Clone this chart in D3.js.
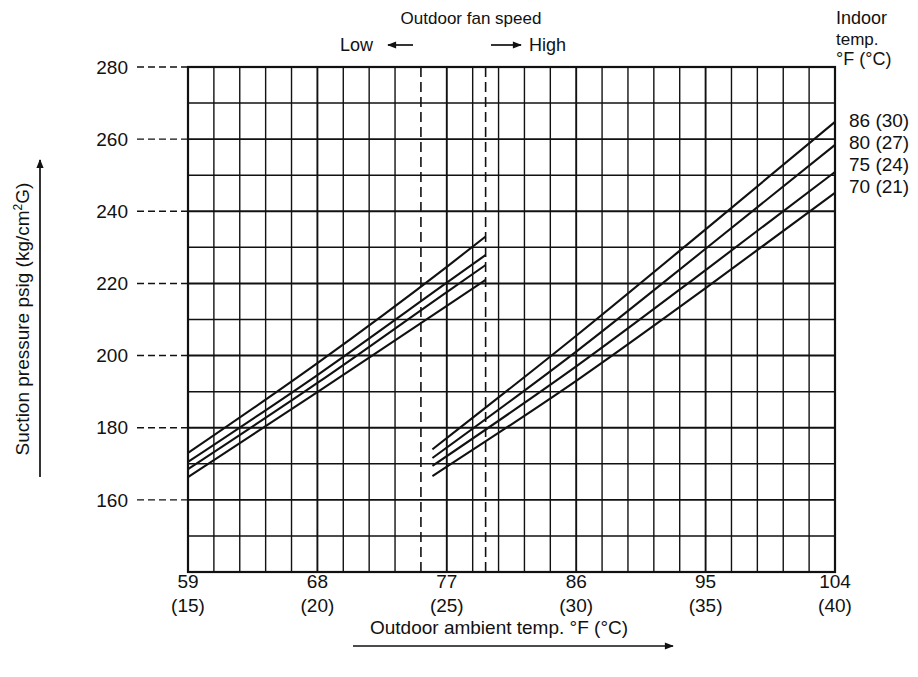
<!DOCTYPE html>
<html><head><meta charset="utf-8">
<script src="https://cdn.jsdelivr.net/npm/d3@7/dist/d3.min.js"></script>
<style>
html,body{margin:0;padding:0;background:#fff;}
svg{display:block;}
text{font-family:"Liberation Sans",Arial,Helvetica,sans-serif;fill:#111;}
</style></head>
<body>
<svg id="c" width="918" height="677"></svg>
<script>
// ---- data ----
const indoorLabels = ["86 (30)", "80 (27)", "75 (24)", "70 (21)"];
const lowTempF = [59, 68, 77, 79.7];
const low86 = [173.0, 197.9, 224.6, 233.0];
const low80 = [170.5, 194.6, 220.2, 227.9];
const low75 = [168.5, 192.4, 217.6, 225.1];
const low70 = [166.3, 189.9, 213.8, 221.0];
const highTempF = [76, 86, 95, 104];
const high86 = [174.0, 205.5, 235.0, 264.8];
const high80 = [171.6, 201.1, 229.6, 258.4];
const high75 = [169.4, 197.0, 223.7, 250.9];
const high70 = [166.6, 193.0, 218.7, 245.1];
const xTickF = [59, 68, 77, 86, 95, 104];
const xTickC = ["(15)", "(20)", "(25)", "(30)", "(35)", "(40)"];
const yTicks = [160, 180, 200, 220, 240, 260, 280];
const fanSpeedSwitchF = [75.2, 79.7];

// ---- layout ----
const svg = d3.select("#c");
const L = 188, R = 835, T = 67, B = 572;
const x = d3.scaleLinear().domain([59, 104]).range([L, R]);
const y = d3.scaleLinear().domain([140, 280]).range([B, T]);

const defs = svg.append("defs");
defs.append("marker").attr("id", "ah").attr("viewBox", "0 0 10 10").attr("refX", 9).attr("refY", 5)
  .attr("markerWidth", 11).attr("markerHeight", 9).attr("markerUnits", "userSpaceOnUse").attr("orient", "auto")
  .append("path").attr("d", "M0,1 L10,5 L0,9 Z").attr("fill", "#111");
defs.append("marker").attr("id", "ah2").attr("viewBox", "0 0 10 10").attr("refX", 9).attr("refY", 5)
  .attr("markerWidth", 13).attr("markerHeight", 9).attr("markerUnits", "userSpaceOnUse").attr("orient", "auto")
  .append("path").attr("d", "M0,1 L10,5 L0,9 Z").attr("fill", "#111");

// grid: vertical every 1 °C, horizontal every 10 psig
const gridC = d3.range(15, 41).filter(c => c !== 24);
const g = svg.append("g");
g.selectAll("line.v").data(gridC).join("line")
  .attr("x1", c => x(c * 1.8 + 32)).attr("x2", c => x(c * 1.8 + 32))
  .attr("y1", T).attr("y2", B)
  .attr("stroke", "#111").attr("stroke-width", c => (c % 5 === 0 ? 1.9 : 1.4));
g.selectAll("line.h").data(d3.range(140, 281, 10)).join("line")
  .attr("x1", L).attr("x2", R).attr("y1", d => y(d)).attr("y2", d => y(d))
  .attr("stroke", "#111").attr("stroke-width", d => (d % 20 === 0 ? 1.9 : 1.5));
svg.append("rect").attr("x", L).attr("y", T).attr("width", R - L).attr("height", B - T)
  .attr("fill", "none").attr("stroke", "#111").attr("stroke-width", 2.2);

// dashed fan-speed switch lines
svg.selectAll("line.sw").data(fanSpeedSwitchF).join("line")
  .attr("x1", d => x(d)).attr("x2", d => x(d)).attr("y1", T).attr("y2", B)
  .attr("stroke", "#111").attr("stroke-width", 1.6).attr("stroke-dasharray", "10,5");

// curves
const line = d3.line().curve(d3.curveMonotoneX);
const lowSeries = [low86, low80, low75, low70];
const highSeries = [high86, high80, high75, high70];
lowSeries.forEach(s => {
  svg.append("path").attr("d", line(s.map((v, i) => [x(lowTempF[i]), y(v)])))
    .attr("fill", "none").attr("stroke", "#111").attr("stroke-width", 2.1);
});
highSeries.forEach(s => {
  svg.append("path").attr("d", line(s.map((v, i) => [x(highTempF[i]), y(v)])))
    .attr("fill", "none").attr("stroke", "#111").attr("stroke-width", 2.1);
});

// y ticks with dashed leaders
const yt = svg.append("g");
yTicks.forEach(v => {
  yt.append("text").attr("x", 128).attr("y", y(v)).attr("dy", "0.35em").attr("text-anchor", "end")
    .attr("font-size", 19).text(v);
  yt.append("line").attr("x1", 137).attr("x2", L).attr("y1", y(v)).attr("y2", y(v))
    .attr("stroke", "#111").attr("stroke-width", 1.4).attr("stroke-dasharray", "7,4");
});

// x ticks
xTickF.forEach((v, i) => {
  svg.append("text").attr("x", x(v)).attr("y", 588).attr("text-anchor", "middle").attr("font-size", 19).text(v);
  svg.append("text").attr("x", x(v)).attr("y", 612).attr("text-anchor", "middle").attr("font-size", 19).text(xTickC[i]);
});

// axis titles + arrows
svg.append("text").attr("x", 499).attr("y", 634).attr("text-anchor", "middle").attr("font-size", 19)
  .text("Outdoor ambient temp. °F (°C)");
svg.append("line").attr("x1", 353).attr("x2", 673).attr("y1", 646).attr("y2", 646)
  .attr("stroke", "#111").attr("stroke-width", 1.7).attr("marker-end", "url(#ah2)");

const yTitle = svg.append("text").attr("transform", "translate(29,319) rotate(-90)")
  .attr("text-anchor", "middle").attr("font-size", 19);
yTitle.append("tspan").text("Suction pressure psig (kg/cm");
yTitle.append("tspan").attr("font-size", 12).attr("dy", -7).text("2");
yTitle.append("tspan").attr("dy", 7).text("G)");
svg.append("line").attr("x1", 40).attr("x2", 40).attr("y1", 477).attr("y2", 160)
  .attr("stroke", "#111").attr("stroke-width", 1.7).attr("marker-end", "url(#ah2)");

// top annotation
svg.append("text").attr("x", 471).attr("y", 24).attr("text-anchor", "middle").attr("font-size", 17).text("Outdoor fan speed");
svg.append("text").attr("x", 340).attr("y", 51).attr("font-size", 18).text("Low");
svg.append("line").attr("x1", 413).attr("x2", 388).attr("y1", 45).attr("y2", 45)
  .attr("stroke", "#111").attr("stroke-width", 1.7).attr("marker-end", "url(#ah)");
svg.append("line").attr("x1", 491).attr("x2", 521).attr("y1", 45).attr("y2", 45)
  .attr("stroke", "#111").attr("stroke-width", 1.7).attr("marker-end", "url(#ah)");
svg.append("text").attr("x", 529).attr("y", 51).attr("font-size", 18).text("High");

// legend
svg.append("text").attr("x", 836).attr("y", 24).attr("font-size", 18).text("Indoor");
svg.append("text").attr("x", 836).attr("y", 45).attr("font-size", 17).text("temp.");
svg.append("text").attr("x", 836).attr("y", 65).attr("font-size", 18).text("°F (°C)");
const labelY = [120, 142, 164, 186];
indoorLabels.forEach((t, i) => {
  svg.append("text").attr("x", 849).attr("y", labelY[i]).attr("dy", "0.35em").attr("font-size", 19).text(t);
});
</script>
</body></html>
